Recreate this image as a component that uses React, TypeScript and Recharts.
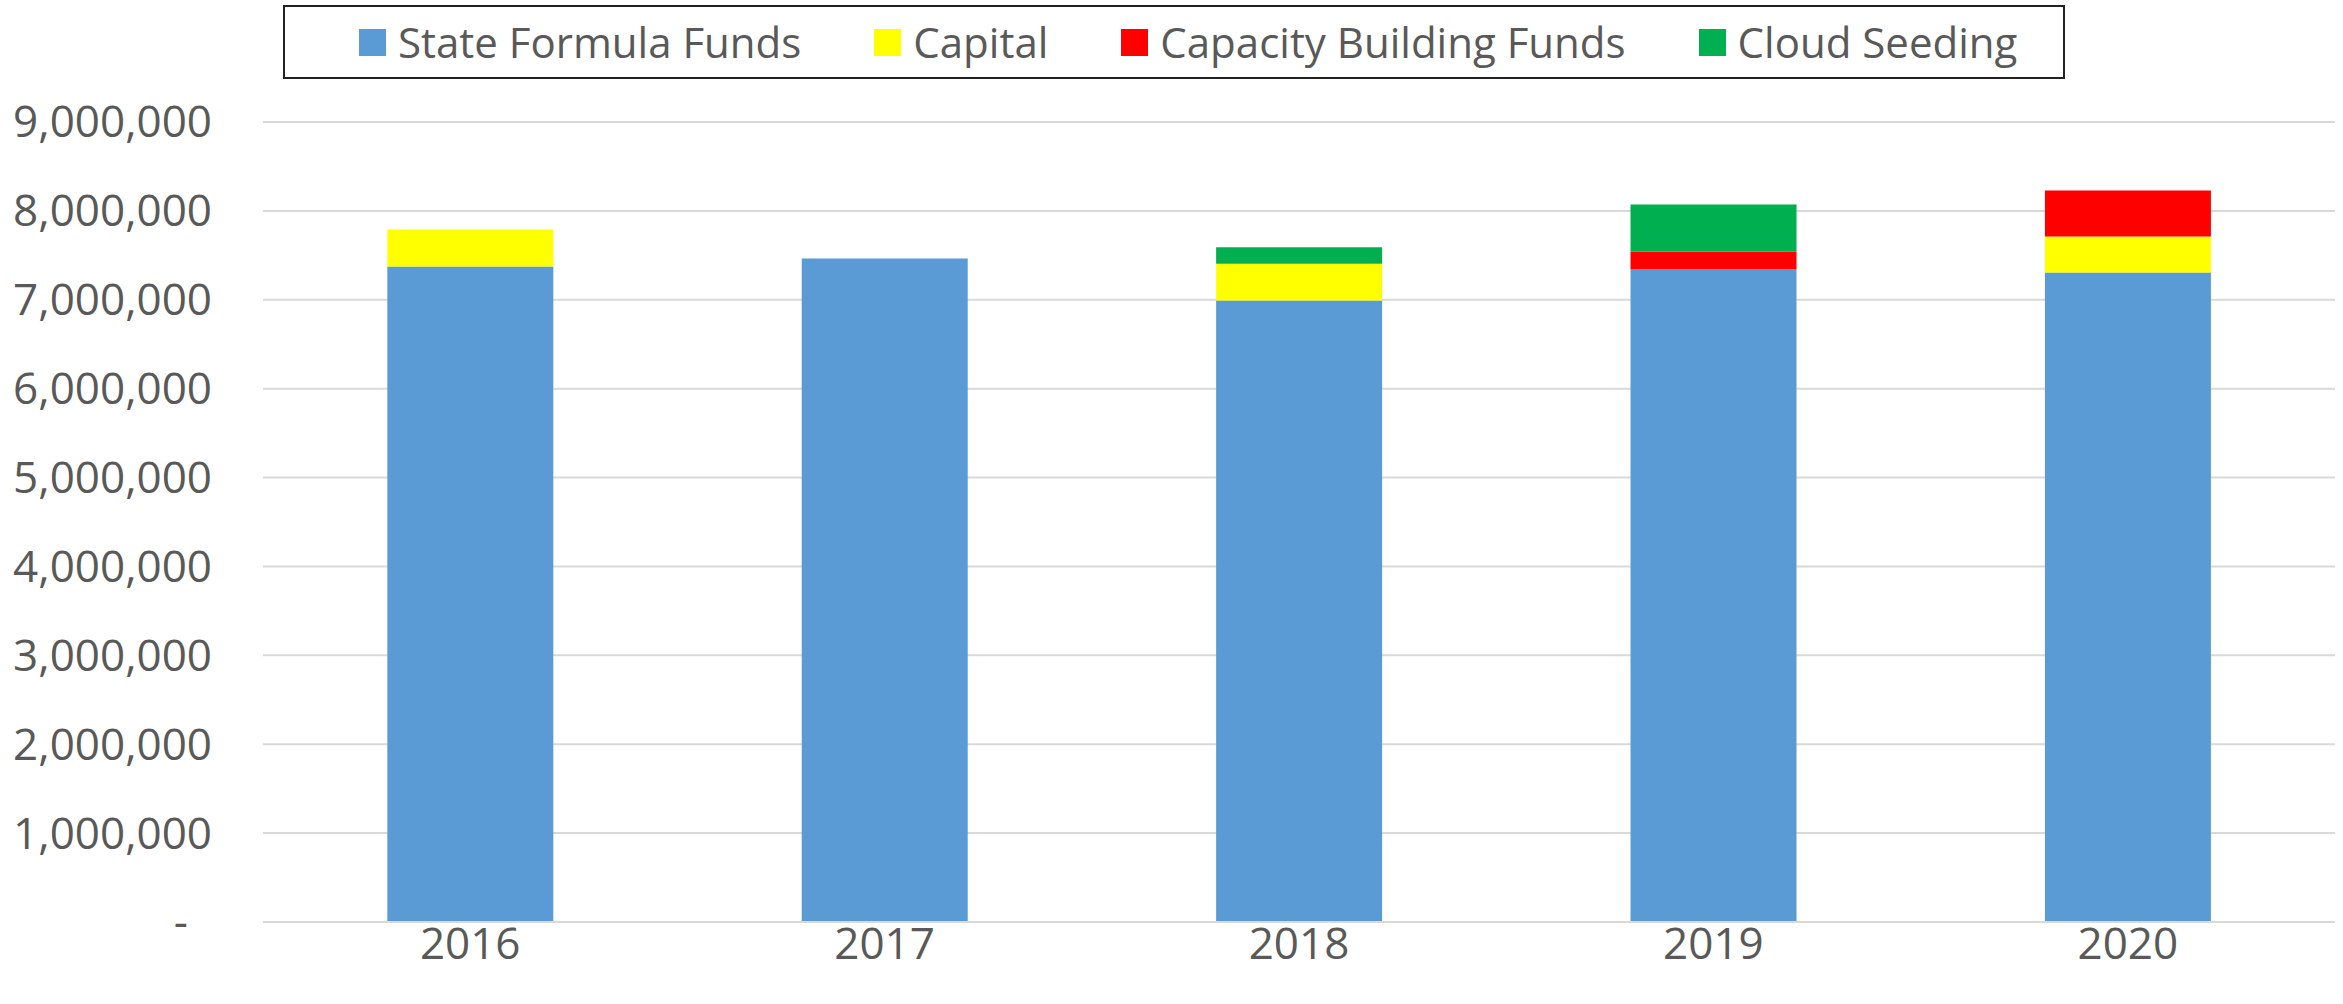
import React from 'react';
import { BarChart, Bar, XAxis, YAxis, CartesianGrid } from 'recharts';

// values
const years = ['2016', '2017', '2018', '2019', '2020'];
const stateFormulaFunds = [7374000, 7464000, 6993000, 7340000, 7306000];
const capital = [416000, 0, 413000, 0, 405000];
const capacityBuildingFunds = [0, 0, 0, 202000, 518000];
const cloudSeeding = [0, 0, 184000, 531000, 0];
const yTicks = [0, 1000000, 2000000, 3000000, 4000000, 5000000, 6000000, 7000000, 8000000, 9000000];

const series = [
    { key: 'stateFormula', name: 'State Formula Funds', color: '#5B9BD5', values: stateFormulaFunds },
    { key: 'capital', name: 'Capital', color: '#FFFF00', values: capital },
    { key: 'capacity', name: 'Capacity Building Funds', color: '#FF0000', values: capacityBuildingFunds },
    { key: 'cloud', name: 'Cloud Seeding', color: '#00B050', values: cloudSeeding },
];

const data = years.map((year, i) => {
    const row: Record<string, string | number> = { year };
    series.forEach(s => { row[s.key] = s.values[i]; });
    return row;
});

const FONT = '"Open Sans", "Liberation Sans", sans-serif';
const TEXT = '#595959';

const YTick = (props: any) => {
    const { x, y, payload } = props;
    const v = payload.value as number;
    const label = v === 0 ? '-' : v.toLocaleString('en-US');
    return (
        <text x={v === 0 ? x - 24 : x} y={y} dy="0.35em" textAnchor="end"
            fill={TEXT} fontSize={44} fontFamily={FONT}>
            {label}
        </text>
    );
};

const LegendBox = () => (
    <div style={{
        position: 'absolute', left: 283, top: 5, width: 1782, height: 74,
        boxSizing: 'border-box', border: '2px solid #222', background: '#fff',
        display: 'flex', alignItems: 'center', paddingLeft: 74,
        fontFamily: FONT, fontSize: 42, color: TEXT,
    }}>
        {series.map(s => (
            <div key={s.key} style={{ display: 'flex', alignItems: 'center', marginRight: 73 }}>
                <span style={{ width: 27, height: 27, background: s.color, display: 'inline-block', marginRight: 12 }} />
                <span style={{ lineHeight: 1, whiteSpace: 'nowrap' }}>{s.name}</span>
            </div>
        ))}
    </div>
);

export default function App() {
    return (
        <div style={{ position: 'absolute', left: 0, top: 0, width: 2343, height: 1004, background: '#fff' }}>
            <BarChart width={2343} height={1004} data={data}
                margin={{ top: 122, right: 8, bottom: 0, left: 8 }}
                barCategoryGap="30%">
                <CartesianGrid vertical={false} stroke="#d9d9d9" strokeWidth={2} />
                <XAxis dataKey="year" height={82} tickLine={false} tickSize={0} tickMargin={6}
                    axisLine={{ stroke: '#d9d9d9', strokeWidth: 2 }}
                    tick={{ fill: TEXT, fontSize: 44, fontFamily: FONT }} />
                <YAxis width={255} domain={[0, 9000000]} ticks={yTicks} interval={0}
                    axisLine={false} tickLine={false} tickSize={0} tickMargin={51}
                    tick={<YTick />} />
                {series.map(s => (
                    <Bar key={s.key} dataKey={s.key} name={s.name} stackId="a"
                        fill={s.color} isAnimationActive={false} />
                ))}
            </BarChart>
            <LegendBox />
        </div>
    );
}
